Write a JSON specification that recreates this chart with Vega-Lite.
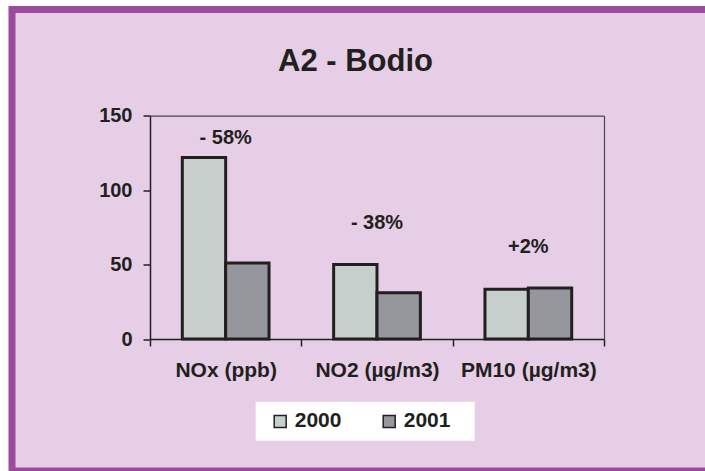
{
  "$schema": "https://vega.github.io/schema/vega-lite/v6.json",
  "autosize": "none",
  "width": 693,
  "height": 461.5,
  "padding": {"left": 12, "top": 9.5, "right": 0, "bottom": 0},
  "background": "white",
  "view": {
    "fill": "#E6CEE6",
    "stroke": "#9C4A9B",
    "strokeWidth": 7,
    "strokeDash": [1154.5, 461.5],
    "strokeDashOffset": 461.5
  },
  "title": {
    "text": "A2 - Bodio",
    "anchor": "middle",
    "frame": "group",
    "font": "Liberation Sans",
    "fontSize": 31,
    "fontWeight": "bold",
    "color": "#231F20",
    "baseline": "middle",
    "offset": 0,
    "dx": -3,
    "dy": 83
  },
  "config": {
    "axis": {
      "domainColor": "#231F20",
      "domainWidth": 1.5,
      "tickColor": "#231F20",
      "tickWidth": 1.5,
      "tickSize": 7,
      "labelFont": "Liberation Sans",
      "labelFontSize": 20,
      "labelFontWeight": "bold",
      "labelColor": "#231F20",
      "grid": false,
      "title": null
    }
  },
  "data": {
    "values": [
      {"pollutant": "NOx (ppb)", "year": "2000", "value": 122, "change": "- 58%"},
      {"pollutant": "NOx (ppb)", "year": "2001", "value": 51, "change": "- 58%"},
      {"pollutant": "NO2 (µg/m3)", "year": "2000", "value": 50, "change": "- 38%"},
      {"pollutant": "NO2 (µg/m3)", "year": "2001", "value": 31, "change": "- 38%"},
      {"pollutant": "PM10 (µg/m3)", "year": "2000", "value": 33.5, "change": "+2%"},
      {"pollutant": "PM10 (µg/m3)", "year": "2001", "value": 34.2, "change": "+2%"}
    ]
  },
  "layer": [
    {
      "mark": {"type": "bar", "stroke": "#231F20", "strokeWidth": 3},
      "encoding": {
        "x": {
          "field": "pollutant",
          "type": "nominal",
          "sort": null,
          "scale": {"range": [138, 592], "paddingInner": 0, "paddingOuter": 0},
          "axis": {
            "orient": "bottom",
            "offset": -132,
            "tickBand": "extent",
            "labelAngle": 0,
            "labelFontSize": 21,
            "labelPadding": 13
          }
        },
        "xOffset": {
          "field": "year",
          "type": "nominal",
          "scale": {"paddingInner": 0, "paddingOuter": 0.745}
        },
        "y": {
          "field": "value",
          "type": "quantitative",
          "scale": {"domain": [0, 150], "range": [329.5, 106.2], "nice": false},
          "axis": {"orient": "left", "offset": -138, "values": [0, 50, 100, 150], "labelPadding": 11}
        },
        "fill": {
          "field": "year",
          "type": "nominal",
          "scale": {"domain": ["2000", "2001"], "range": ["#C6CFCC", "#96979C"]},
          "legend": {
            "orient": "none",
            "legendX": 243.7,
            "legendY": 392.2,
            "direction": "horizontal",
            "title": " ",
            "titleOrient": "left",
            "titlePadding": 5,
            "titleFontSize": 21,
            "fillColor": "white",
            "padding": 9,
            "symbolType": "square",
            "symbolSize": 144,
            "symbolStrokeColor": "#231F20",
            "symbolStrokeWidth": 1.5,
            "symbolOpacity": 1,
            "labelFont": "Liberation Sans",
            "labelFontSize": 21,
            "labelFontWeight": "bold",
            "labelColor": "#231F20",
            "labelOffset": 4,
            "columnPadding": 22,
            "labelExpr": "datum.label + '\u2800'"
          }
        }
      }
    },
    {
      "transform": [{"filter": "datum.pollutant === 'NOx (ppb)' && datum.year === '2000'"}],
      "mark": {
        "type": "text",
        "dy": -19,
        "baseline": "middle",
        "font": "Liberation Sans",
        "fontSize": 20,
        "fontWeight": "bold",
        "color": "#231F20"
      },
      "encoding": {
        "x": {
          "field": "pollutant",
          "type": "nominal",
          "sort": null,
          "axis": {
            "orient": "top",
            "offset": -106.2,
            "ticks": false,
            "labels": false,
            "domainColor": "#4A4446",
            "domainWidth": 1.2
          }
        },
        "y": {
          "field": "value",
          "type": "quantitative",
          "axis": {
            "orient": "right",
            "offset": -101,
            "ticks": false,
            "labels": false,
            "domainColor": "#4A4446",
            "domainWidth": 1.2
          }
        },
        "text": {"field": "change"}
      }
    },
    {
      "transform": [
        {"joinaggregate": [{"op": "max", "field": "value", "as": "top"}], "groupby": ["pollutant"]},
        {"filter": "datum.pollutant !== 'NOx (ppb)' && datum.year === '2000'"}
      ],
      "mark": {
        "type": "text",
        "dy": -41.5,
        "baseline": "middle",
        "font": "Liberation Sans",
        "fontSize": 20,
        "fontWeight": "bold",
        "color": "#231F20"
      },
      "encoding": {
        "x": {"field": "pollutant", "type": "nominal", "sort": null, "axis": null},
        "y": {"field": "top", "type": "quantitative", "axis": null},
        "text": {"field": "change"}
      }
    }
  ],
  "resolve": {"axis": {"x": "independent", "y": "independent"}}
}
